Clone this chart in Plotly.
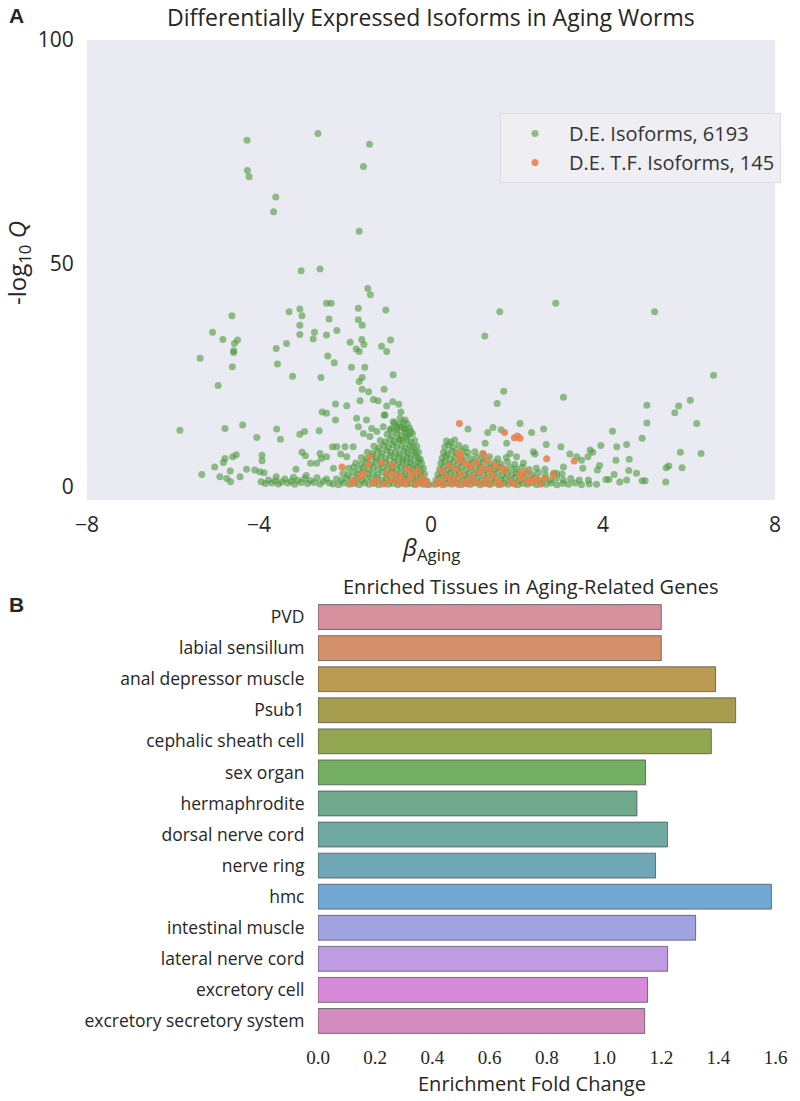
import plotly.graph_objects as go

W, H = 800, 1101

# --- panel A: volcano plot (beta_Aging, -log10 Q) ---
de_outliers = [
    (-4.28, 77.6), (-2.63, 79.1), (-1.43, 76.7), (-4.27, 70.8), (-4.23, 69.4), (-1.57, 71.7),
    (-3.61, 64.9), (-3.66, 61.6), (-1.67, 57.2), (-3.02, 48.4), (-2.58, 48.8), (-1.47, 44.4),
    (-1.41, 43.0), (-4.63, 38.3), (-5.08, 34.6), (-4.84, 33.0), (-4.57, 32.1), (-4.50, 32.9),
    (-4.59, 30.5), (-4.59, 30.1), (-5.37, 28.8), (-4.62, 26.9), (-4.95, 22.7), (-5.84, 12.7),
    (-4.79, 13.1), (-4.38, 13.9), (-5.33, 2.8), (-5.03, 4.5), (-4.83, 5.5), (-4.79, 6.4),
    (-4.61, 6.8), (-4.53, 7.2), (-4.91, 2.3), (-4.75, 1.9), (-4.66, 1.2), (-4.44, 2.3),
    (-4.29, 4.0), (-4.67, 3.6), (-4.05, 11.1), (-3.93, 7.1), (-3.93, 5.9), (-4.10, 3.8),
    (-3.98, 3.4), (-3.88, 3.2),
    (-3.60, 31.0), (-3.36, 32.1), (-3.30, 39.2), (-3.05, 39.8), (-3.00, 38.3), (-3.05, 36.2),
    (-3.05, 34.1), (-2.74, 33.1), (-2.71, 34.6), (-2.43, 34.0), (-2.43, 41.1), (-2.32, 41.1),
    (-2.37, 37.6), (-2.19, 35.0), (-1.69, 40.0), (-1.69, 37.4), (-1.60, 36.2), (-1.05, 39.6),
    (-1.88, 32.4), (-1.74, 30.9), (-1.67, 30.3), (-1.61, 33.0), (-1.56, 31.9), (-1.15, 31.5),
    (-1.03, 30.3), (-0.94, 32.9), (-3.57, 27.5), (-3.22, 24.8), (-2.56, 24.5), (-2.40, 29.3),
    (-2.25, 27.8), (-1.85, 26.8), (-1.54, 26.8), (-1.60, 24.5), (-1.67, 23.6), (-0.88, 25.1),
    (-1.60, 21.9), (-1.45, 21.3), (-1.34, 19.6), (-1.23, 19.3), (-1.09, 21.9), (-1.65, 19.3),
    (-1.03, 18.1), (-0.89, 19.1), (-0.75, 18.5), (-0.70, 16.8), (-1.09, 16.1), (-2.22, 18.6),
    (-1.96, 18.2), (-2.53, 16.8), (-2.43, 16.5), (-2.22, 15.0), (-3.59, 13.0), (-3.50, 10.7),
    (-3.05, 11.8), (-2.94, 12.4), (-2.60, 12.6),
    (2.90, 41.1), (1.60, 39.2), (5.20, 39.2), (1.25, 33.8), (6.57, 25.0), (1.69, 21.4),
    (1.54, 18.7), (3.08, 20.1), (5.02, 18.3), (5.76, 18.1), (6.03, 19.4), (5.67, 16.6),
    (5.02, 14.3), (6.18, 14.2), (4.91, 10.9), (4.22, 12.5), (5.80, 7.8), (6.28, 7.5),
    (5.84, 4.3), (5.47, 4.3), (5.53, 4.7), (5.46, 1.1), (4.91, 1.4), (4.98, 1.4), (4.78, 3.1),
    (4.55, 9.5), (4.61, 6.2), (4.55, 1.6), (4.60, 3.7), (4.30, 6.0), (4.26, 2.8), (4.32, 9.0),
    (4.39, 1.1), (3.95, 9.3), (3.70, 8.3), (3.76, 7.8), (3.65, 6.8), (2.07, 14.2), (2.62, 13.0),
    (2.34, 12.2), (1.44, 13.3), (1.32, 12.2), (0.86, 13.0), (1.63, 12.8), (1.26, 9.8),
    (1.76, 9.8), (2.68, 9.5), (3.02, 9.0),
]

de_left_scatter = [
    (-3.95, 1.2), (-3.85, 0.8), (-3.78, 1.6), (-3.70, 0.9), (-3.62, 1.4), (-3.55, 0.7),
    (-3.47, 1.1), (-3.40, 1.8), (-3.33, 0.9), (-3.25, 1.3), (-3.17, 0.6), (-3.10, 1.5),
    (-3.02, 1.0), (-2.94, 1.9), (-2.87, 0.8), (-2.80, 1.4), (-2.72, 1.0), (-2.65, 2.1),
    (-2.58, 0.7), (-2.50, 1.3), (-2.43, 1.8), (-2.36, 0.9), (-3.60, 2.3), (-3.20, 2.2),
    (-2.90, 2.6), (-3.00, 7.8), (-2.92, 7.0), (-2.58, 7.5), (-2.55, 6.4), (-2.66, 5.3),
    (-2.80, 5.3), (-2.43, 6.8), (-2.29, 9.0), (-2.19, 9.0), (-2.00, 9.0), (-1.81, 9.0),
    (-2.10, 7.4), (-1.96, 6.8), (-2.27, 4.2), (-3.14, 4.0), (-1.73, 15.4), (-1.69, 13.5),
    (-1.50, 15.0), (-1.38, 13.1), (-1.57, 12.0), (-1.42, 11.3), (-1.26, 12.4), (-1.11, 13.5),
    (-0.95, 12.8), (-0.80, 13.5), (-0.64, 13.1), (-0.57, 11.3), (-0.72, 10.5), (-1.07, 16.1),
    (-0.88, 14.6), (-0.72, 15.4), (-0.60, 15.0),
]

de_left_core = [
    (-2.28, 0.7), (-2.15, 0.5), (-2.03, 0.9), (-1.90, 0.6), (-1.79, 0.8), (-1.67, 0.5),
    (-1.55, 0.9), (-1.44, 0.6), (-1.32, 0.8), (-1.21, 0.5), (-1.10, 0.9), (-0.99, 0.6),
    (-0.88, 0.8), (-0.77, 0.5), (-0.67, 0.9), (-0.57, 0.6), (-0.47, 0.8), (-0.37, 0.5),
    (-0.28, 0.9), (-0.19, 0.6), (-0.11, 0.7), (-0.05, 0.5),
    (-2.20, 1.8), (-2.08, 1.5), (-1.96, 2.0), (-1.84, 1.6), (-1.72, 1.9), (-1.60, 1.5),
    (-1.49, 2.1), (-1.37, 1.7), (-1.26, 1.9), (-1.15, 1.5), (-1.04, 2.0), (-0.93, 1.6),
    (-0.82, 1.9), (-0.72, 1.5), (-0.62, 2.0), (-0.52, 1.7), (-0.42, 1.9), (-0.33, 1.5),
    (-0.24, 2.0), (-0.15, 1.6), (-0.09, 1.3),
    (-2.05, 3.0), (-1.93, 2.7), (-1.81, 3.2), (-1.70, 2.8), (-1.58, 3.3), (-1.46, 2.9),
    (-1.35, 3.1), (-1.24, 2.7), (-1.13, 3.3), (-1.02, 2.8), (-0.91, 3.2), (-0.80, 2.7),
    (-0.70, 3.1), (-0.60, 2.8), (-0.50, 3.3), (-0.41, 2.9), (-0.32, 3.1), (-0.23, 2.7),
    (-0.15, 2.9),
    (-1.92, 4.2), (-1.80, 4.5), (-1.68, 3.9), (-1.56, 4.3), (-1.45, 4.0), (-1.34, 4.5),
    (-1.23, 4.1), (-1.12, 4.4), (-1.01, 3.9), (-0.90, 4.3), (-0.80, 4.0), (-0.70, 4.5),
    (-0.60, 4.1), (-0.51, 4.4), (-0.42, 3.9), (-0.33, 4.3), (-0.25, 4.0), (-0.18, 4.2),
    (-1.75, 5.4), (-1.62, 5.1), (-1.50, 5.6), (-1.39, 5.2), (-1.28, 5.7), (-1.17, 5.3),
    (-1.06, 5.5), (-0.96, 5.1), (-0.86, 5.6), (-0.76, 5.2), (-0.66, 5.7), (-0.57, 5.3),
    (-0.48, 5.5), (-0.39, 5.1), (-0.30, 5.6), (-0.22, 5.3),
    (-1.62, 6.6), (-1.50, 6.3), (-1.38, 6.9), (-1.27, 6.5), (-1.16, 6.8), (-1.05, 6.4),
    (-0.95, 6.9), (-0.85, 6.5), (-0.75, 6.7), (-0.65, 6.3), (-0.56, 6.8), (-0.47, 6.4),
    (-0.38, 6.9), (-0.30, 6.5), (-0.25, 6.2),
    (-1.48, 7.8), (-1.36, 7.5), (-1.25, 8.0), (-1.14, 7.6), (-1.03, 8.1), (-0.93, 7.7),
    (-0.83, 7.9), (-0.73, 7.5), (-0.63, 8.0), (-0.54, 7.6), (-0.45, 8.1), (-0.36, 7.7),
    (-0.29, 7.8),
    (-1.33, 9.1), (-1.21, 8.8), (-1.10, 9.3), (-0.99, 8.9), (-0.89, 9.4), (-0.79, 9.0),
    (-0.69, 9.2), (-0.59, 8.8), (-0.50, 9.3), (-0.41, 8.9), (-0.33, 9.1),
    (-1.18, 10.4), (-1.06, 10.1), (-0.95, 10.6), (-0.85, 10.2), (-0.75, 10.7), (-0.65, 10.3),
    (-0.56, 10.5), (-0.47, 10.1), (-0.38, 10.4),
    (-1.02, 11.8), (-0.90, 11.5), (-0.79, 12.0), (-0.69, 11.6), (-0.60, 12.1), (-0.51, 11.7),
    (-0.43, 11.9), (-0.92, 13.1), (-0.80, 12.8), (-0.70, 13.3), (-0.60, 12.9), (-0.50, 13.2),
    (-0.47, 12.5), (-0.85, 14.3), (-0.74, 14.0), (-0.64, 14.5), (-0.55, 14.1),
]

de_right_core = [
    (0.08, 0.6), (0.17, 0.9), (0.27, 0.5), (0.37, 0.8), (0.48, 0.6), (0.59, 0.9), (0.70, 0.5),
    (0.81, 0.8), (0.92, 0.6), (1.03, 0.9), (1.14, 0.5), (1.25, 0.8), (1.36, 0.6), (1.47, 0.9),
    (1.58, 0.5), (1.69, 0.8), (1.80, 0.6), (1.91, 0.9), (2.02, 0.5), (2.13, 0.8), (2.24, 0.6),
    (2.35, 0.9), (2.46, 0.5), (2.57, 0.8), (2.68, 0.6), (2.80, 0.9), (2.93, 0.5), (3.07, 0.8),
    (3.20, 0.6), (3.35, 0.9), (3.50, 0.5), (3.68, 0.7), (3.85, 0.6),
    (0.12, 1.6), (0.21, 2.0), (0.31, 1.5), (0.41, 1.9), (0.52, 1.6), (0.63, 2.1), (0.74, 1.5),
    (0.85, 1.9), (0.96, 1.6), (1.07, 2.0), (1.18, 1.5), (1.29, 1.9), (1.40, 1.6), (1.51, 2.1),
    (1.62, 1.5), (1.73, 1.9), (1.84, 1.6), (1.95, 2.0), (2.06, 1.5), (2.17, 1.9), (2.28, 1.6),
    (2.40, 2.1), (2.52, 1.5), (2.65, 1.9), (2.78, 1.6), (2.92, 2.0), (3.08, 1.5), (3.25, 1.9),
    (3.45, 1.6),
    (0.16, 2.8), (0.25, 3.2), (0.35, 2.7), (0.45, 3.1), (0.56, 2.8), (0.67, 3.3), (0.78, 2.7),
    (0.89, 3.1), (1.00, 2.8), (1.11, 3.2), (1.22, 2.7), (1.33, 3.1), (1.44, 2.8), (1.55, 3.3),
    (1.66, 2.7), (1.77, 3.1), (1.88, 2.8), (1.99, 3.2), (2.10, 2.7), (2.22, 3.1), (2.35, 2.8),
    (2.50, 3.2), (2.66, 2.7), (2.85, 3.1), (3.05, 2.9),
    (0.20, 4.0), (0.29, 4.4), (0.39, 3.9), (0.49, 4.3), (0.60, 4.0), (0.71, 4.5), (0.82, 3.9),
    (0.93, 4.3), (1.04, 4.0), (1.15, 4.4), (1.26, 3.9), (1.37, 4.3), (1.48, 4.0), (1.60, 4.5),
    (1.72, 3.9), (1.85, 4.3), (1.98, 4.0), (2.12, 4.4), (2.28, 3.9), (2.45, 4.2), (2.65, 4.0),
    (0.23, 5.3), (0.32, 5.7), (0.42, 5.1), (0.52, 5.5), (0.63, 5.2), (0.74, 5.7), (0.86, 5.1),
    (0.98, 5.5), (1.10, 5.3), (1.22, 5.6), (1.35, 5.1), (1.48, 5.5), (1.62, 5.2), (1.78, 5.6),
    (1.95, 5.1), (2.15, 5.4),
    (0.26, 6.5), (0.35, 6.9), (0.45, 6.3), (0.56, 6.7), (0.68, 6.4), (0.80, 6.9), (0.93, 6.3),
    (1.06, 6.7), (1.20, 6.4), (1.36, 6.8), (1.55, 6.3), (1.75, 6.6),
    (0.29, 7.8), (0.38, 7.5), (0.48, 8.0), (0.59, 7.6), (0.72, 8.1), (0.86, 7.7), (1.02, 7.9),
    (1.20, 7.5), (0.32, 9.0), (0.41, 9.4), (0.52, 8.9), (0.65, 9.3), (0.80, 8.8),
    (0.36, 10.3), (0.46, 10.0), (0.55, 10.5),
    (1.84, 7.5), (1.99, 6.8), (2.38, 7.9), (2.42, 7.4), (3.23, 7.4), (3.39, 6.8), (3.50, 6.0),
    (3.53, 4.2), (3.66, 1.6), (3.87, 3.8), (3.92, 4.8), (4.07, 1.7), (4.14, 1.7), (3.08, 4.5),
    (2.92, 3.1),
]

tf_points = [
    (-2.07, 4.5), (-1.42, 6.8), (-1.46, 5.1), (-1.57, 3.1), (-1.65, 2.3), (-1.77, 1.6),
    (-1.26, 1.6), (-1.03, 3.1), (-0.95, 1.6), (-0.72, 2.3), (-0.57, 1.2), (-0.41, 3.1),
    (-0.26, 1.2), (-0.14, 1.2), (-1.85, 0.8), (-1.10, 0.7), (-0.85, 2.8), (-0.65, 0.8),
    (-0.48, 1.9), (-0.35, 0.7), (-0.20, 2.0), (-0.10, 0.6), (-1.35, 0.9), (-0.78, 1.1),
    (-0.30, 3.5), (-0.55, 4.0), (-0.90, 4.8), (-1.15, 5.5),
    (0.12, 0.7), (0.20, 1.5), (0.30, 0.6), (0.38, 2.3), (0.47, 0.9), (0.55, 1.8), (0.63, 0.6),
    (0.70, 2.9), (0.78, 1.2), (0.86, 0.7), (0.95, 2.2), (1.03, 1.0), (1.12, 3.4), (1.20, 0.8),
    (1.28, 1.9), (1.37, 0.6), (1.45, 2.6), (1.55, 1.1), (1.63, 0.7), (1.72, 3.7), (1.85, 1.3),
    (1.96, 0.6), (2.10, 2.0), (2.25, 1.0), (2.40, 1.5), (2.55, 0.7), (0.25, 3.6), (0.42, 4.8),
    (0.58, 4.1), (0.66, 6.0), (0.80, 5.3), (0.92, 4.5), (1.05, 5.6), (1.20, 4.3), (1.35, 3.9),
    (1.50, 4.8), (0.68, 7.2), (0.63, 7.7), (1.22, 7.4), (1.31, 6.0), (1.68, 4.2), (2.07, 3.1),
    (2.22, 3.4), (2.30, 1.6), (2.46, 1.9), (2.65, 1.9), (2.84, 2.7), (0.66, 14.2), (1.71, 12.2),
    (1.94, 11.0), (2.01, 11.4), (2.07, 10.9), (2.69, 6.3), (3.33, 5.8),
]

de_all = de_left_scatter + de_left_core + de_right_core + de_outliers
de_beta = [p[0] for p in de_all]
de_q = [p[1] for p in de_all]
tf_beta = [p[0] for p in tf_points]
tf_q = [p[1] for p in tf_points]

# --- panel B: tissue enrichment ---
tissues = ["PVD", "labial sensillum", "anal depressor muscle", "Psub1", "cephalic sheath cell",
           "sex organ", "hermaphrodite", "dorsal nerve cord", "nerve ring", "hmc",
           "intestinal muscle", "lateral nerve cord", "excretory cell",
           "excretory secretory system"]
fold_change = [1.20, 1.20, 1.39, 1.46, 1.375, 1.145, 1.115, 1.222, 1.18, 1.585,
               1.32, 1.222, 1.152, 1.142]
bar_colors = ["#d6909e", "#d48f6b", "#bb9a52", "#a69d4e", "#92a550", "#73ae63", "#6faa8d",
              "#6fa9a1", "#70a7b6", "#74a8d4", "#a0a2e2", "#be9be3", "#d78ad7", "#d48bbe"]

SANS = "'Open Sans', Lato, sans-serif"
TXT = "#262626"


def px_x(px):
    return px / W


def px_y(py):
    return 1 - py / H


fig = go.Figure()

fig.add_trace(go.Scatter(
    x=de_beta, y=de_q, mode="markers", name="D.E. Isoforms, 6193",
    marker=dict(size=7, color="rgba(76,153,60,0.6)", line=dict(width=0)),
    xaxis="x", yaxis="y"))
fig.add_trace(go.Scatter(
    x=tf_beta, y=tf_q, mode="markers", name="D.E. T.F. Isoforms, 145",
    marker=dict(size=7, color="rgba(230,130,75,0.88)", line=dict(width=0)),
    xaxis="x", yaxis="y"))

fig.add_trace(go.Bar(
    x=fold_change, y=tissues, orientation="h", width=0.8,
    marker=dict(color=bar_colors, line=dict(color="rgba(70,70,70,0.7)", width=1)),
    showlegend=False, xaxis="x2", yaxis="y2"))

fig.update_layout(
    width=W, height=H,
    margin=dict(l=0, r=0, t=0, b=0),
    paper_bgcolor="white", plot_bgcolor="white",
    font=dict(family=SANS, color=TXT),
    xaxis=dict(domain=[px_x(87), px_x(775)], range=[-8, 8], tickvals=[-8, -4, 0, 4, 8],
               showgrid=False, zeroline=False, showline=False, ticks="outside", ticklen=6,
               tickcolor="rgba(0,0,0,0)", tickfont=dict(size=21, family=SANS, color=TXT),
               anchor="y", automargin=False),
    yaxis=dict(domain=[px_y(500), px_y(40)], range=[-2.9, 100], tickvals=[0, 50, 100],
               showgrid=False, zeroline=False, showline=False, ticks="outside", ticklen=8,
               tickcolor="rgba(0,0,0,0)", tickfont=dict(size=21, family=SANS, color=TXT),
               anchor="x", automargin=False),
    xaxis2=dict(domain=[px_x(318), px_x(790)], range=[0, 1.65], tickvals=[0, 0.2, 0.4, 0.6, 0.8,
                1.0, 1.2, 1.4, 1.6], tickformat=".1f", showgrid=False, zeroline=False,
                showline=False, ticks="outside", ticklen=4, tickcolor="rgba(0,0,0,0)",
                tickfont=dict(size=19, family="'Liberation Serif', serif", color=TXT),
                anchor="y2", automargin=False),
    yaxis2=dict(domain=[px_y(1036.5), px_y(601.5)], range=[13.5, -0.5], showgrid=False,
                zeroline=False, showline=False, ticks="outside", ticklen=9,
                tickcolor="rgba(0,0,0,0)", tickfont=dict(size=17.5, family=SANS, color=TXT),
                anchor="x2", automargin=False),
    legend=dict(x=px_x(500), y=px_y(113), xanchor="left", yanchor="top",
                bgcolor="#eeeef3", bordercolor="#dcdce2", borderwidth=1,
                font=dict(size=20, family=SANS, color="#333333"), itemwidth=58,
                tracegroupgap=0),
)

fig.add_shape(type="rect", xref="x domain", yref="y domain", x0=0, x1=1, y0=0, y1=1,
              fillcolor="#eaeaf2", line=dict(width=0), layer="below")

notes = [
    ("Differentially Expressed Isoforms in Aging Worms", 431, 17, 23, SANS, 0),
    ("-log<sub>10</sub> <i>Q</i>", 18, 263, 24, SANS, -90),
    ("<i>β</i><sub>Aging</sub>", 431, 548, 24, SANS, 0),
    ("Enriched Tissues in Aging-Related Genes", 530, 586, 20, SANS, 0),
    ("Enrichment Fold Change", 532, 1083, 20, SANS, 0),
    ("<b>A</b>", 16, 16, 21, "'Liberation Sans', Arial, sans-serif", 0),
    ("<b>B</b>", 16, 604, 21, "'Liberation Sans', Arial, sans-serif", 0),
]
for text, x, y, size, fam, ang in notes:
    fig.add_annotation(text=text, x=px_x(x), y=px_y(y), xref="paper", yref="paper",
                       showarrow=False, xanchor="center", yanchor="middle", textangle=ang,
                       font=dict(size=size, family=fam, color=TXT))

fig.write_html("out.html", config={"displayModeBar": False},
               post_script="document.body.style.margin='0';")
